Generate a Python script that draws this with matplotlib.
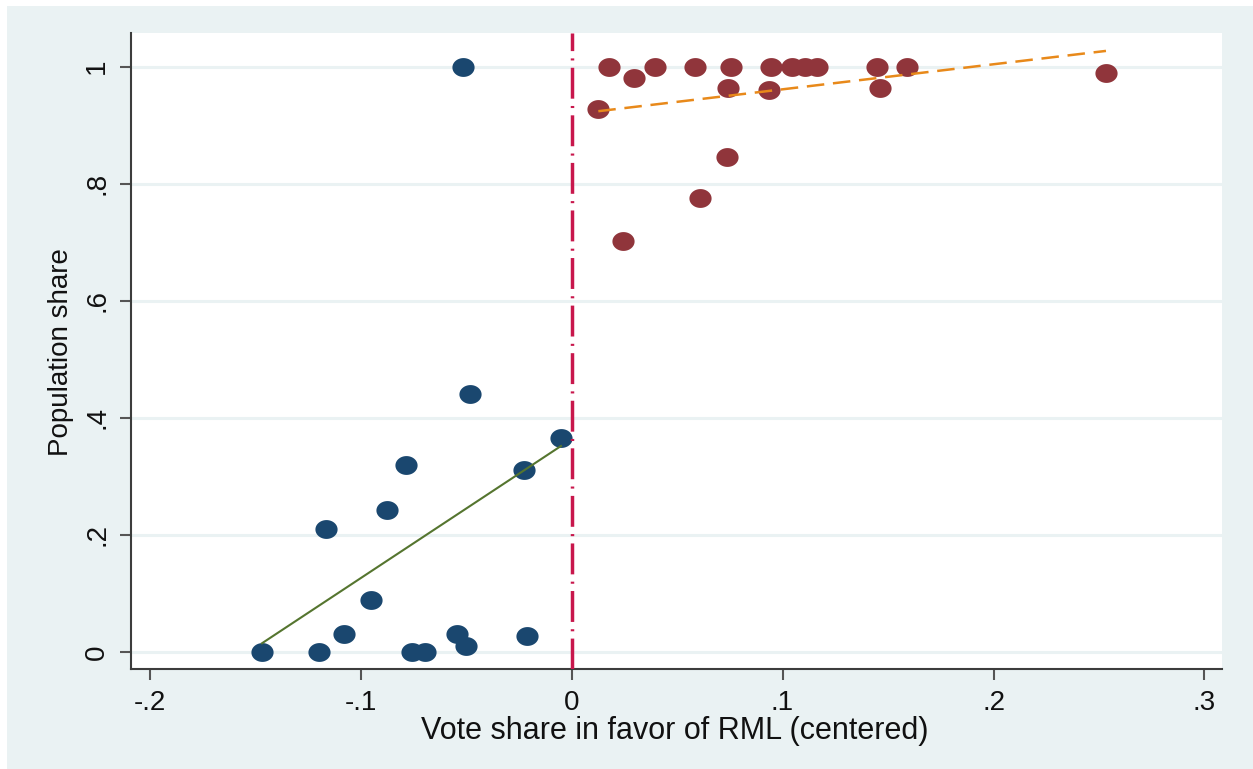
import numpy as np
import matplotlib
matplotlib.use("Agg")
import matplotlib.pyplot as plt
from matplotlib.path import Path
from matplotlib.patches import Rectangle

# below cutoff (navy)
left_x = [-0.0513, -0.0481, -0.0050, -0.0784, -0.0225, -0.0876, -0.1165, -0.0950,
          -0.1077, -0.1467, -0.1195, -0.0757, -0.0694, -0.0544, -0.0501, -0.0209]
left_y = [1.0, 0.440, 0.366, 0.320, 0.311, 0.243, 0.210, 0.089,
          0.030, 0.0, 0.0, 0.0, 0.0, 0.030, 0.011, 0.028]

# above cutoff (maroon)
right_x = [0.0178, 0.0396, 0.0585, 0.0755, 0.0944, 0.1046, 0.1107, 0.1165, 0.1446, 0.1591,
           0.0298, 0.0742, 0.0937, 0.1462, 0.2533, 0.0127, 0.0738, 0.0610, 0.0243]
right_y = [1.0, 1.0, 1.0, 1.0, 1.0, 1.0, 1.0, 1.0, 1.0, 1.0,
           0.981, 0.964, 0.960, 0.963, 0.989, 0.927, 0.846, 0.775, 0.703]

# linear fit end values
fit_left_y = [0.015, 0.352]
fit_right_y = [0.924, 1.027]

xticks = [-0.2, -0.1, 0, 0.1, 0.2, 0.3]
xtick_labels = ["-.2", "-.1", "0", ".1", ".2", ".3"]
yticks = [0, 0.2, 0.4, 0.6, 0.8, 1.0]
ytick_labels = ["0", ".2", ".4", ".6", ".8", "1"]

NAVY = "#1a476f"
MAROON = "#90353b"
GREEN = "#55752f"
ORANGE = "#e8891a"
RED = "#c8174c"
BG = "#eaf2f3"

plt.rcParams["font.family"] = ["Liberation Sans", "DejaVu Sans"]

fig = plt.figure(figsize=(12.53, 7.69), dpi=100, facecolor="white")
bg = Rectangle((7 / 1253, 0), 1, 763 / 769, transform=fig.transFigure,
               facecolor=BG, edgecolor="none", zorder=-10)
fig.patches.append(bg)
ax = fig.add_axes([131 / 1253, 1 - 669 / 769, 1091 / 1253, 636 / 769])
ax.set_facecolor("white")

# slightly wide ellipse markers like the source image
t = np.linspace(0, 2 * np.pi, 80)
ell = Path(np.column_stack([np.cos(t), 0.85 * np.sin(t)]), closed=True)

ax.scatter(left_x, left_y, s=255, marker=ell, color=NAVY, linewidths=0, zorder=3)
ax.scatter(right_x, right_y, s=255, marker=ell, color=MAROON, linewidths=0, zorder=3)

ax.plot([min(left_x), max(left_x)], fit_left_y, color=GREEN, lw=1.5, zorder=4)
ax.plot([min(right_x), max(right_x)], fit_right_y, color=ORANGE, lw=1.8,
        dashes=(7, 3.5), dash_capstyle="butt", zorder=4)
ax.axvline(0, color=RED, lw=2.5, linestyle=(0, (8.9, 2.1, 0.6, 2.1)),
           dash_capstyle="butt", zorder=5)

ax.set_xlim(-0.2088, 0.3083)
ax.set_ylim(-0.029, 1.0576)

ax.set_xticks(xticks)
ax.set_xticklabels(xtick_labels)
ax.set_yticks(yticks)
ax.set_yticklabels(ytick_labels, rotation=90, va="center")

ax.grid(axis="y", color=BG, lw=2.2)
ax.set_axisbelow(True)
for s in ["top", "right"]:
    ax.spines[s].set_visible(False)
for s in ["left", "bottom"]:
    ax.spines[s].set_color("#3c3c3c")
    ax.spines[s].set_linewidth(1.5)
ax.tick_params(axis="both", length=8, width=1.5, color="#555555", labelsize=20,
               labelcolor="#111111")
ax.tick_params(axis="x", pad=7)
ax.tick_params(axis="y", pad=7)

fig.text(675 / 1253, 1 - 731 / 769, "Vote share in favor of RML (centered)",
         ha="center", va="center", fontsize=22, color="#111111")
fig.text(61 / 1253, 1 - 352 / 769, "Population share", rotation=90,
         ha="center", va="center", fontsize=20, color="#111111")

fig.savefig("out.png", dpi=100, facecolor=fig.get_facecolor())
